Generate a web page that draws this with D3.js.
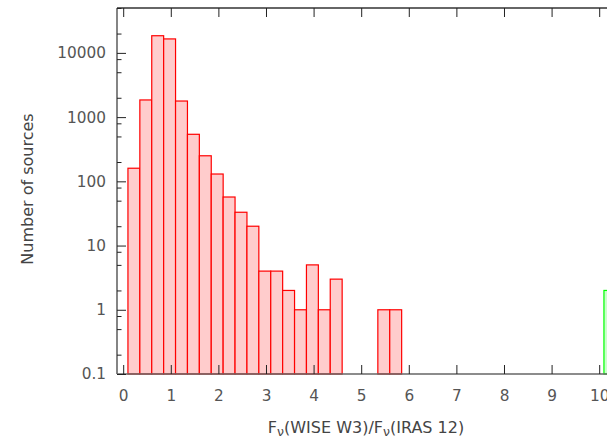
<!DOCTYPE html>
<html><head><meta charset="utf-8">
<script src="https://cdn.jsdelivr.net/npm/d3@7"></script>
<style>
html,body{margin:0;padding:0;background:#fff;overflow:hidden;}
svg{display:block;}
text{font-family:"DejaVu Sans",sans-serif;}
</style></head>
<body><svg id="c" width="607" height="439"></svg>
<script>
// Histogram bins (lower edges) and counts, bin width 0.25
const binLo = [0.10,0.35,0.60,0.85,1.10,1.35,1.60,1.85,2.10,2.35,2.60,2.85,3.10,3.35,3.60,3.85,4.10,4.35,5.35,5.60];
const counts = [160,1850,18500,16500,1780,540,250,130,57,33,20,4,4,2,1,5,1,3,1,1];
const binWidth = 0.25;
// second (green) histogram, mostly outside the visible area
const greenLo = [10.10];
const greenCounts = [2];
const xTicks = [0,1,2,3,4,5,6,7,8,9,10];
const yTicks = [0.1,1,10,100,1000,10000];
const yTickLabels = ["0.1","1","10","100","1000","10000"];
const yMinorTicks = [0.2,0.5,0.8,2,5,8,20,50,80,200,500,800,2000,5000,8000,20000,50000];
const xTitle = "WISE W3)/F";

(function(){
const svg = d3.select("#c");
const pl = 117, pt = 8, pb = 374;
const x = d3.scaleLinear().domain([-0.13, 10.7]).range([pl, pl + 10.83*47.6]);
const y = d3.scaleLog().domain([0.1, 50000]).range([pb, pt]);

// bars
svg.append("g").selectAll("rect").data(binLo).join("rect")
  .attr("x", (d)=>x(d)).attr("width", (d)=>x(d+binWidth)-x(d))
  .attr("y", (d,i)=>y(counts[i])).attr("height", (d,i)=>y(0.1)-y(counts[i]))
  .attr("fill","#ffcccc").attr("stroke","#ff0000").attr("stroke-width",1.2);
svg.append("g").selectAll("rect").data(greenLo).join("rect")
  .attr("x", (d)=>x(d)).attr("width", (d)=>x(d+binWidth)-x(d))
  .attr("y", (d,i)=>y(greenCounts[i])).attr("height", (d,i)=>y(0.1)-y(greenCounts[i]))
  .attr("fill","#ccffcc").attr("stroke","#00ff00").attr("stroke-width",1.2);

const axisColor = "#666";
const tickColor = "#222";
// frame
svg.append("line").attr("x1",pl).attr("x2",pl).attr("y1",pt).attr("y2",pb).attr("stroke",axisColor).attr("stroke-width",1.6);
svg.append("line").attr("x1",pl).attr("x2",640).attr("y1",pb).attr("y2",pb).attr("stroke",axisColor).attr("stroke-width",1.6);
svg.append("line").attr("x1",pl).attr("x2",640).attr("y1",pt).attr("y2",pt).attr("stroke","#333").attr("stroke-width",1.6);

// x ticks (inward, bottom and top)
const xb = svg.append("g").attr("transform",`translate(0,${pb})`)
  .call(d3.axisBottom(x).tickValues(xTicks).tickSize(-9).tickPadding(16).tickFormat(d3.format("d")));
xb.select(".domain").remove();
xb.selectAll(".tick line").attr("stroke",tickColor).attr("stroke-width",1);
xb.selectAll(".tick text").attr("font-size",15.3).attr("fill","#555").attr("font-family","DejaVu Sans");
const xt = svg.append("g").attr("transform",`translate(0,${pt})`)
  .call(d3.axisTop(x).tickValues(xTicks).tickSize(-9).tickFormat(""));
xt.select(".domain").remove();
xt.selectAll(".tick line").attr("stroke",tickColor).attr("stroke-width",1);

// y ticks
const yl = svg.append("g").attr("transform",`translate(${pl},0)`)
  .call(d3.axisLeft(y).tickValues(yTicks).tickSize(-9).tickPadding(11).tickFormat((d,i)=>yTickLabels[i]));
yl.select(".domain").remove();
yl.selectAll(".tick line").attr("stroke",tickColor).attr("stroke-width",1);
yl.selectAll(".tick text").attr("font-size",15.3).attr("fill","#555").attr("font-family","DejaVu Sans");
const ym = svg.append("g").attr("transform",`translate(${pl},0)`)
  .call(d3.axisLeft(y).tickValues(yMinorTicks).tickSize(-4.5).tickFormat(""));
ym.select(".domain").remove();
ym.selectAll(".tick line").attr("stroke",tickColor).attr("stroke-width",1);

// titles
const t = svg.append("text").attr("x",366).attr("y",433).attr("text-anchor","middle")
  .attr("font-size",16).attr("fill","#444");
t.append("tspan").text("F");
t.append("tspan").attr("dy",3).attr("font-size",12.5).text("ν");
t.append("tspan").attr("dy",-3).text("(" + xTitle);
t.append("tspan").attr("dy",3).attr("font-size",12.5).text("ν");
t.append("tspan").attr("dy",-3).text("(IRAS 12)");

svg.append("text").attr("transform","translate(33,189) rotate(-90)").attr("text-anchor","middle")
  .attr("font-size",16).attr("fill","#444").text("Number of sources");
})();
</script></body></html>
